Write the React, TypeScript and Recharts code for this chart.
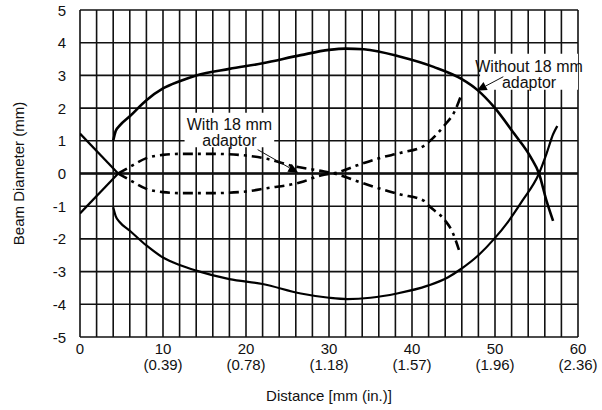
import React from 'react';
import { ComposedChart, Line, XAxis, YAxis, CartesianGrid, ReferenceLine, ReferenceArea } from 'recharts';

const xTicks = [0, 2, 4, 6, 8, 10, 12, 14, 16, 18, 20, 22, 24, 26, 28, 30, 32, 34, 36, 38, 40, 42, 44, 46, 48, 50, 52, 54, 56, 58, 60];
const xMajor = [0, 10, 20, 30, 40, 50, 60];
const xInch = ['', '(0.39)', '(0.78)', '(1.18)', '(1.57)', '(1.96)', '(2.36)'];
const yTicks = [-5, -4, -3, -2, -1, 0, 1, 2, 3, 4, 5];

// Without 18 mm adaptor (solid lens)
const withoutUpper = [
  { x: 4.0, y: 1.0 }, { x: 4.3, y: 1.3 }, { x: 4.8, y: 1.47 }, { x: 6, y: 1.75 }, { x: 8, y: 2.24 },
  { x: 10, y: 2.6 }, { x: 12, y: 2.82 }, { x: 14, y: 3.0 }, { x: 18, y: 3.2 }, { x: 22, y: 3.37 },
  { x: 26.6, y: 3.62 }, { x: 30, y: 3.78 }, { x: 32, y: 3.82 }, { x: 34.2, y: 3.8 }, { x: 38.6, y: 3.57 },
  { x: 42.6, y: 3.26 }, { x: 45.9, y: 2.9 }, { x: 47.9, y: 2.55 }, { x: 49.9, y: 2.03 }, { x: 52.3, y: 1.22 },
  { x: 54.3, y: 0.5 }, { x: 55.3, y: 0 }, { x: 56.2, y: -0.83 }, { x: 57, y: -1.45 },
];
const withoutLower = [
  { x: 4.0, y: -1.03 }, { x: 4.3, y: -1.3 }, { x: 4.8, y: -1.49 }, { x: 6, y: -1.75 }, { x: 8, y: -2.2 },
  { x: 10, y: -2.57 }, { x: 12, y: -2.8 }, { x: 14, y: -2.97 }, { x: 18, y: -3.23 }, { x: 22, y: -3.38 },
  { x: 26.6, y: -3.67 }, { x: 30, y: -3.8 }, { x: 32.2, y: -3.84 }, { x: 35, y: -3.8 }, { x: 38.2, y: -3.67 },
  { x: 41.9, y: -3.43 }, { x: 44.3, y: -3.18 }, { x: 45.9, y: -2.92 }, { x: 48, y: -2.5 }, { x: 49.9, y: -2.0 },
  { x: 51.5, y: -1.5 }, { x: 53.3, y: -0.83 }, { x: 55.3, y: 0 }, { x: 56.2, y: 0.6 }, { x: 57, y: 1.2 }, { x: 57.5, y: 1.45 },
];

// Straight entry lines
const entryDown = [{ x: 0, y: 1.22 }, { x: 4.6, y: 0 }];
const entryUp = [{ x: 0, y: -1.22 }, { x: 4.6, y: 0 }];

// With 18 mm adaptor (dash-dot)
const withUpper = [
  { x: 4.6, y: 0 }, { x: 6, y: 0.2 }, { x: 8, y: 0.47 }, { x: 10, y: 0.57 }, { x: 12, y: 0.6 },
  { x: 16, y: 0.6 }, { x: 20, y: 0.55 }, { x: 22.5, y: 0.45 }, { x: 25.8, y: 0.22 }, { x: 29, y: 0.08 },
  { x: 30.6, y: 0 }, { x: 33.8, y: -0.27 }, { x: 36.6, y: -0.5 }, { x: 38.6, y: -0.64 }, { x: 41.4, y: -0.83 },
  { x: 42, y: -0.98 }, { x: 44, y: -1.44 }, { x: 44.8, y: -1.75 }, { x: 45.8, y: -2.45 },
];
const withLower = [
  { x: 4.6, y: 0 }, { x: 6, y: -0.2 }, { x: 8, y: -0.47 }, { x: 10, y: -0.57 }, { x: 12, y: -0.6 },
  { x: 16, y: -0.6 }, { x: 20, y: -0.55 }, { x: 22.5, y: -0.45 }, { x: 26.6, y: -0.27 }, { x: 29, y: -0.06 },
  { x: 31, y: 0.03 }, { x: 33.4, y: 0.25 }, { x: 36.2, y: 0.48 }, { x: 38.6, y: 0.63 }, { x: 41.4, y: 0.84 },
  { x: 42, y: 0.96 }, { x: 44, y: 1.5 }, { x: 45.1, y: 1.88 }, { x: 46, y: 2.45 },
];

const withLabel = ['With 18 mm', 'adaptor'];
const withoutLabel = ['Without 18 mm', 'adaptor'];

const FONT = '"Liberation Sans", Arial, sans-serif';

const XTick = (props: any) => {
  const { x, y, payload } = props;
  const i = xMajor.indexOf(payload.value);
  if (i < 0) return <g />;
  return (
    <g>
      <text x={x} y={y + 17} textAnchor="middle" fontFamily={FONT} fontSize={15} fill="#111">
        {payload.value}
      </text>
      {xInch[i] ? (
        <text x={x} y={y + 33} textAnchor="middle" fontFamily={FONT} fontSize={15} fill="#111">
          {xInch[i]}
        </text>
      ) : null}
    </g>
  );
};

const YTick = (props: any) => {
  const { x, y, payload } = props;
  return (
    <text x={x} y={y} textAnchor="end" dominantBaseline="central" fontFamily={FONT} fontSize={15} fill="#111">
      {payload.value}
    </text>
  );
};

const boxLabel = (lines: string[]) => (props: any) => {
  const vb = props.viewBox;
  const cx = vb.x + vb.width / 2;
  const cy = vb.y + vb.height / 2;
  return (
    <g>
      <text x={cx} y={cy} textAnchor="middle" fontFamily={FONT} fontSize={16} fill="#111">
        {lines[0]}
      </text>
      <text x={cx} y={cy + 16} textAnchor="middle" fontFamily={FONT} fontSize={16} fill="#111">
        {lines[1]}
      </text>
    </g>
  );
};

const arrowShape = (props: any) => {
  const { x1, y1, x2, y2 } = props;
  if ([x1, y1, x2, y2].some((v) => v == null || isNaN(v))) return <g />;
  const dx = x2 - x1;
  const dy = y2 - y1;
  const len = Math.sqrt(dx * dx + dy * dy) || 1;
  const ux = dx / len;
  const uy = dy / len;
  const hl = 10;
  const hw = 4.5;
  const bx = x2 - ux * hl;
  const by = y2 - uy * hl;
  const pts = `${x2},${y2} ${bx - uy * hw},${by + ux * hw} ${bx + uy * hw},${by - ux * hw}`;
  return (
    <g>
      <line x1={x1} y1={y1} x2={bx} y2={by} stroke="#111" strokeWidth={1} />
      <polygon points={pts} fill="#000" />
    </g>
  );
};

export default function App() {
  return (
    <div style={{ position: 'absolute', left: 0, top: 0, background: '#fff' }}>
      <ComposedChart width={602} height={410} margin={{ top: 10, right: 24, left: 0, bottom: 0 }}>
        <CartesianGrid stroke="#111" strokeWidth={1.6} horizontalValues={yTicks} verticalValues={xTicks} />
        <XAxis
          type="number"
          dataKey="x"
          domain={[0, 60]}
          ticks={xTicks}
          interval={0}
          allowDataOverflow
          axisLine={false}
          tickLine={false}
          tickSize={0}
          tickMargin={0}
          height={73}
          tick={<XTick />}
          label={(p: any) => {
            const vb = p.viewBox;
            return (
              <text x={vb.x + vb.width / 2} y={vb.y + 64} textAnchor="middle" fontFamily={FONT} fontSize={15} fill="#111">
                Distance [mm (in.)]
              </text>
            );
          }}
        />
        <YAxis
          type="number"
          domain={[-5, 5]}
          ticks={yTicks}
          interval={0}
          allowDataOverflow
          axisLine={false}
          tickLine={false}
          tickSize={0}
          tickMargin={14}
          width={80}
          tick={<YTick />}
          label={(p: any) => {
            const vb = p.viewBox;
            const cx = vb.x + 18;
            const cy = vb.y + vb.height / 2;
            return (
              <text x={cx} y={cy} textAnchor="middle" dominantBaseline="central" transform={`rotate(-90 ${cx} ${cy})`} fontFamily={FONT} fontSize={15} fill="#111">
                Beam Diameter (mm)
              </text>
            );
          }}
        />
        <ReferenceLine y={0} stroke="#111" strokeWidth={2.4} />
        <ReferenceArea x1={12.6} x2={23.4} y1={0.8} y2={1.86} fill="#fff" fillOpacity={1} stroke="none" label={boxLabel(withLabel)} />
        <ReferenceArea x1={48.2} x2={60} y1={2.56} y2={3.66} fill="#fff" fillOpacity={1} stroke="none" label={boxLabel(withoutLabel)} />
        <Line data={withoutUpper} dataKey="y" type="monotone" dot={false} stroke="#000" strokeWidth={2.6} isAnimationActive={false} />
        <Line data={withoutLower} dataKey="y" type="monotone" dot={false} stroke="#000" strokeWidth={2.2} isAnimationActive={false} />
        <Line data={entryDown} dataKey="y" type="linear" dot={false} stroke="#000" strokeWidth={2.2} isAnimationActive={false} />
        <Line data={entryUp} dataKey="y" type="linear" dot={false} stroke="#000" strokeWidth={2.2} isAnimationActive={false} />
        <Line data={withUpper} dataKey="y" type="monotone" dot={false} stroke="#000" strokeWidth={2.6} strokeDasharray="10 5 3 5" isAnimationActive={false} />
        <Line data={withLower} dataKey="y" type="monotone" dot={false} stroke="#000" strokeWidth={2.6} strokeDasharray="10 5 3 5" isAnimationActive={false} />
        <ReferenceLine segment={[{ x: 21.4, y: 0.73 }, { x: 26.3, y: 0.02 }]} shape={arrowShape} ifOverflow="visible" />
        <ReferenceLine segment={[{ x: 51.0, y: 2.96 }, { x: 47.8, y: 2.53 }]} shape={arrowShape} ifOverflow="visible" />
      </ComposedChart>
    </div>
  );
}
